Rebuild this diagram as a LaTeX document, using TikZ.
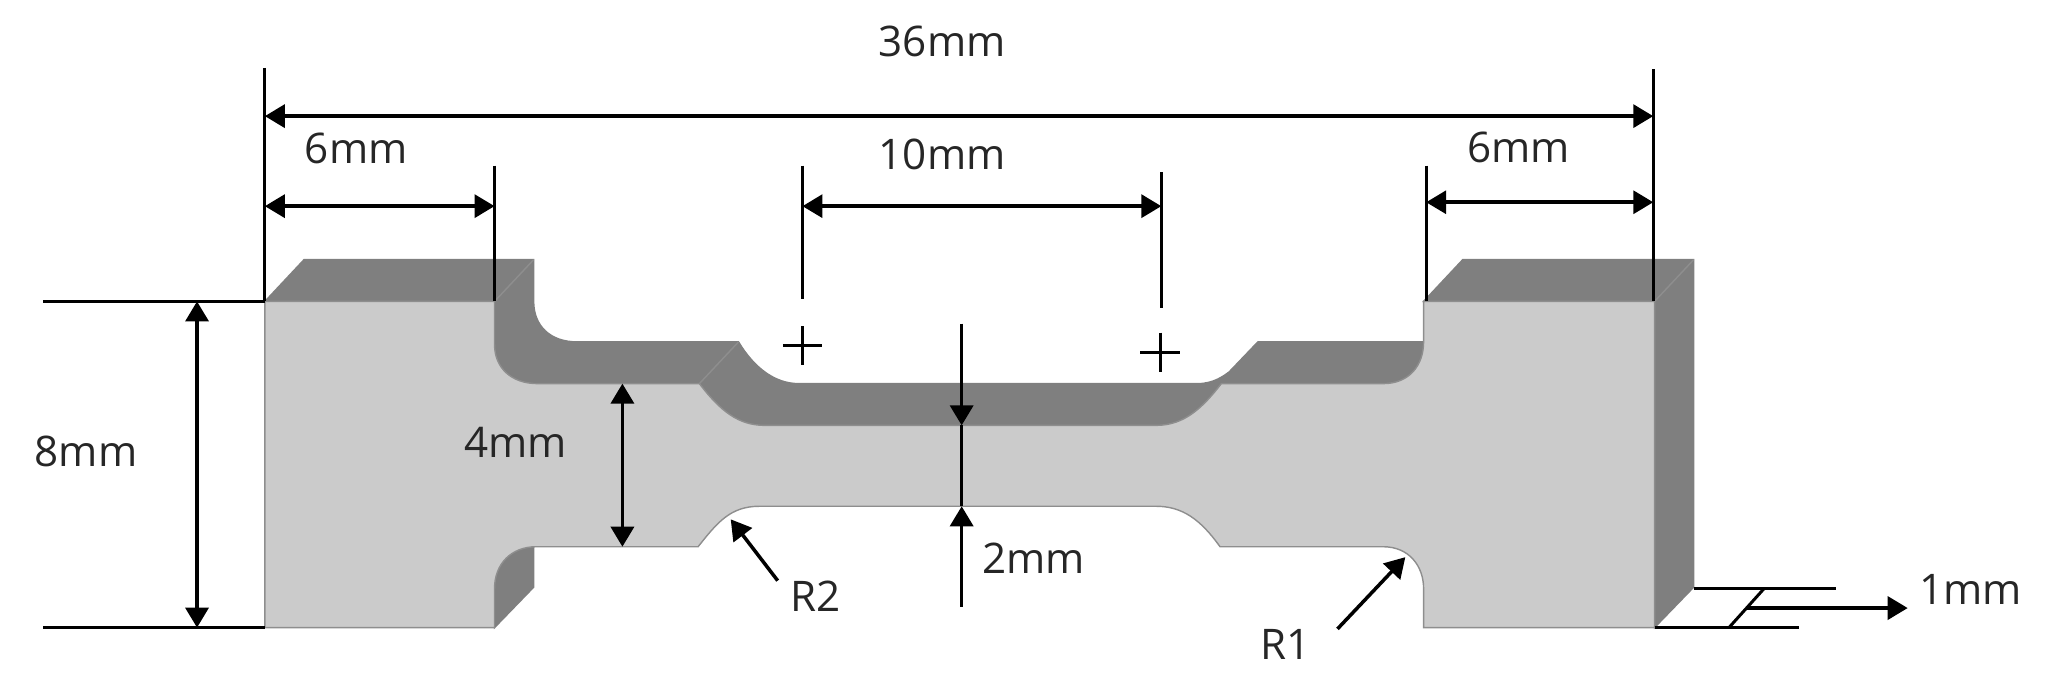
\documentclass[tikz,border=0pt]{standalone}
\usepackage{fontspec}
\setmainfont{Open Sans}
\usetikzlibrary{arrows.meta}
\definecolor{facelight}{HTML}{CBCBCB}
\definecolor{facedark}{HTML}{7F7F7F}
\definecolor{faceedge}{HTML}{8E8E8E}
\tikzset{dim label/.style={font=\fontsize{12}{14}\selectfont, text=black!85, inner sep=0pt},
extension line/.style={draw=black, line width=0.85pt},
dim arrow/.style={draw=black, line width=1pt, -{Triangle[length=2mm,width=2.3mm]}},
dim both/.style={draw=black, line width=1pt, {Triangle[length=2mm,width=2.3mm]}-{Triangle[length=2mm,width=2.3mm]}},
dark face/.style={fill=facedark, draw=facedark, line width=0.4pt},
light face/.style={fill=facelight, draw=faceedge, line width=0.4pt},
}

\begin{document}
\begin{tikzpicture}[x=0.01305cm, y=-0.01305cm]
\useasboundingbox (0,0) rectangle (1568,526);
% extruded side of the specimen
\path [dark face] (203,231) -- (233,199) -- (409,199) -- (409,231) .. controls (409,250) and (422,262) .. (442,262) -- (566,262) .. controls (578,282) and (594,294) .. (612,294) -- (918,294) .. controls (930,294) and (938,288) .. (942,285) -- (964,262) -- (1091,262) -- (1091,340) -- (203,340) -- cycle;
\path [dark face] (1091,231) -- (1121,199) -- (1298,199) -- (1298,450) -- (1268,481) -- (1268,231) -- cycle;
\path [dark face] (379,481) -- (409,450) -- (409,419) -- (379,419) -- cycle;
% front face
\path [light face] (203,231) -- (379,231) -- (379,264) .. controls (379,282) and (392,294) .. (412,294) -- (536,294) .. controls (552,315) and (566,326) .. (586,326) -- (886,326) .. controls (908,326) and (922,312) .. (936,294) -- (1060,294) .. controls (1080,294) and (1091,280) .. (1091,262) -- (1091,231) -- (1268,231) -- (1268,481) -- (1091,481) -- (1091,451) .. controls (1091,434) and (1080,419) .. (1060,419) -- (935,419) .. controls (920,398) and (906,388) .. (886,388) -- (582,388) .. controls (560,388) and (550,400) .. (535,419) -- (411,419) .. controls (392,419) and (379,432) .. (379,451) -- (379,481) -- (203,481) -- cycle;
% creases
\draw [faceedge, line width=0.4pt] (379,231) -- (409,199);
\draw [faceedge, line width=0.4pt] (536,294) -- (566,262);
\draw [faceedge, line width=0.4pt] (1268,231) -- (1298,199);

% end points of the dimension lines
\coordinate (left top) at (203, 52);
\coordinate (left foot) at (203,231);
\coordinate (tab top) at (379,127);
\coordinate (tab foot) at (379,231);
\coordinate (gauge left top) at (615,127);
\coordinate (gauge left foot) at (615,229);
\coordinate (gauge right top) at (890,132);
\coordinate (gauge right foot) at (890,236);
\coordinate (rtab top) at (1093,127);
\coordinate (rtab foot) at (1093,231);
\coordinate (right top) at (1267, 53);
\coordinate (right foot) at (1267,231);
\coordinate (total a) at (203,89);
\coordinate (total b) at (1267,89);
\coordinate (ltab a) at (203,158);
\coordinate (ltab b) at (379,158);
\coordinate (gauge a) at (615,158);
\coordinate (gauge b) at (890,158);
\coordinate (rtab a) at (1093,155);
\coordinate (rtab b) at (1267,155);
\coordinate (high a) at (33,231);
\coordinate (high b) at (33,481);
\coordinate (high c) at (203,481);
\coordinate (height a) at (151,231);
\coordinate (height b) at (151,481);
\coordinate (neck a) at (477,294);
\coordinate (neck b) at (477,419);
\coordinate (thin top) at (737,248);
\coordinate (thin a) at (737,326);
\coordinate (thin b) at (737,388);
\coordinate (thin foot) at (737,465);
\coordinate (rtwo a) at (596,445);
\coordinate (rtwo b) at (560,398);
\coordinate (rone a) at (1025,482);
\coordinate (rone b) at (1077,427);
\coordinate (depth a) at (1298,451);
\coordinate (depth b) at (1407,451);
\coordinate (depth c) at (1268,481);
\coordinate (depth d) at (1379,481);
\coordinate (slash a) at (1325,481);
\coordinate (slash b) at (1352,451);
\coordinate (depth e) at (1339,466);
\coordinate (depth f) at (1462,466);
\coordinate (plus a w) at (600,265);
\coordinate (plus a e) at (630,265);
\coordinate (plus a n) at (615,250);
\coordinate (plus a s) at (615,280);
\coordinate (plus b w) at (874,270);
\coordinate (plus b e) at (904,270);
\coordinate (plus b n) at (889,255);
\coordinate (plus b s) at (889,285);

\draw [extension line] (left top) -- (left foot);
\draw [extension line] (tab top) -- (tab foot);
\draw [extension line] (gauge left top) -- (gauge left foot);
\draw [extension line] (gauge right top) -- (gauge right foot);
\draw [extension line] (rtab top) -- (rtab foot);
\draw [extension line] (right top) -- (right foot);
\draw [extension line] (high a) -- (left foot);
\draw [extension line] (high b) -- (high c);
\draw [extension line] (plus a w) -- (plus a e);
\draw [extension line] (plus a n) -- (plus a s);
\draw [extension line] (plus b w) -- (plus b e);
\draw [extension line] (plus b n) -- (plus b s);
\draw [extension line] (depth a) -- (depth b);
\draw [extension line] (depth c) -- (depth d);
\draw [extension line] (slash a) -- (slash b);

\draw [dim both] (total a) -- (total b);
\draw [dim both] (ltab a) -- (ltab b);
\draw [dim both] (gauge a) -- (gauge b);
\draw [dim both] (rtab a) -- (rtab b);
\draw [dim both] (height a) -- (height b);
\draw [dim both] (neck a) -- (neck b);
\draw [dim arrow] (thin top) -- (thin a);
\draw [draw=black, line width=1pt] (thin a) -- (thin b);
\draw [dim arrow] (thin foot) -- (thin b);
\draw [dim arrow] (rtwo a) -- (rtwo b);
\draw [dim arrow] (rone a) -- (rone b);
\draw [dim arrow] (depth e) -- (depth f);

\node [dim label] (total label) at (722, 32) {36mm};
\node [dim label] (ltab label) at (273,114) {6mm};
\node [dim label] (gauge label) at (722,118) {10mm};
\node [dim label] (rtab label) at (1164,113) {6mm};
\node [dim label] (height label) at (66,346) {8mm};
\node [dim label] (neck label) at (395,339) {4mm};
\node [dim label] (thin label) at (792,428) {2mm};
\node [dim label] (rtwo label) at (625,457) {R2};
\node [dim label] (rone label) at (985,494) {R1};
\node [dim label] (depth label) at (1510,452) {1mm};
\end{tikzpicture}
\end{document}
